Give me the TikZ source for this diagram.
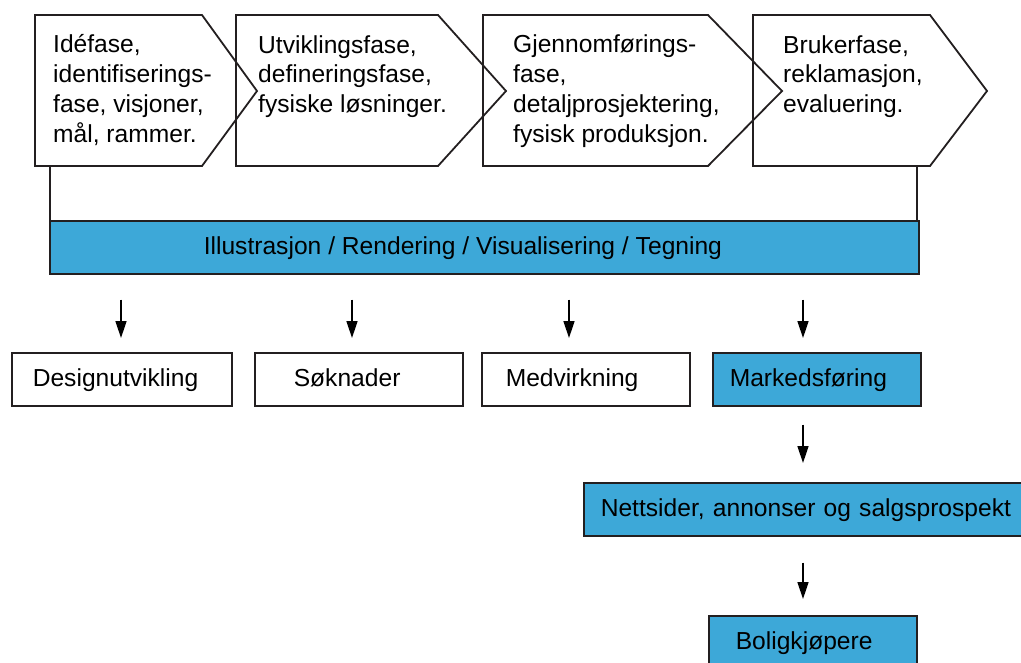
\documentclass[tikz,border=0pt]{standalone}
\usepackage{fontspec}
\setmainfont{Liberation Sans}
\usetikzlibrary{arrows.meta}
\definecolor{lineC}{HTML}{231F20}
\definecolor{blueC}{HTML}{3DA8D8}
\begin{document}
\begin{tikzpicture}[x=1pt,y=-1pt,
  txt/.style={font=\fontsize{24.6}{29.7}\selectfont, inner sep=0pt, align=left, anchor=base west},
  chev/.style={draw=lineC, line width=1.8pt, line join=miter},
  boxbase/.style={draw=lineC, line width=1.6pt, anchor=north west, minimum height=53pt, inner ysep=0pt,
    align=left, text height=17pt, text depth=2pt, font=\fontsize{24.6}{29.7}\selectfont},
  wbox/.style={boxbase, fill=white},
  bbox/.style={boxbase, fill=blueC},
  conn/.style={draw=lineC, line width=1.4pt},
  arr/.style={draw=black, line width=1.5pt, -{Triangle[length=17pt,width=11pt]}}
]
\useasboundingbox (0,0) rectangle (1021,662);
\clip (0,0) rectangle (1021,662);

% chevrons
\draw[chev] (35,15) -- (202,15) -- (257,91) -- (202,166) -- (35,166) -- cycle;
\draw[chev] (236,15) -- (438,15) -- (506,91) -- (438,166) -- (236,166) -- cycle;
\draw[chev] (483,15) -- (708,15) -- (782,91) -- (708,166) -- (483,166) -- cycle;
\draw[chev] (753,15) -- (930,15) -- (987,91) -- (930,166) -- (753,166) -- cycle;
\coordinate (c1b) at (50,166);
\coordinate (c4b) at (917,166);

% base anchor of a multi-line node is the last line's baseline
\node[txt] (t1) at (53,142) {Idéfase,\\identifiserings-\\fase, visjoner,\\mål, rammer.};
\node[txt] (t2) at (258,112.4) {Utviklingsfase,\\defineringsfase,\\fysiske løsninger.};
\node[txt] (t3) at (513,142) {Gjennomførings-\\fase,\\detaljprosjektering,\\fysisk produksjon.};
\node[txt] (t4) at (783,112.4) {Brukerfase,\\reklamasjon,\\evaluering.};

% bar
\node[bbox, inner xsep=154pt, text width=561pt] (bar) at (49,220) {\spaceskip=6.9pt Illustrasjon / Rendering / Visualisering / Tegning};
\draw[conn] (c1b) -- (c1b |- bar.north);
\draw[conn] (c4b) -- (c4b |- bar.north);

% boxes
\node[wbox, inner xsep=21pt, text width=178pt] (d) at (11,352) {Designutvikling};
\node[wbox, inner xsep=39pt, text width=130pt] (s) at (254,352) {Søknader};
\node[wbox, inner xsep=24pt, text width=160pt] (m) at (481,352) {Medvirkning};
\node[bbox, inner xsep=17pt, text width=174pt] (mf) at (712,352) {Markedsføring};
\node[bbox, inner xsep=17pt, text width=430pt] (n) at (583,482) {Nettsider, annonser og salgsprospekt};
\node[bbox, inner xsep=27pt, text width=154pt] (b) at (708,615) {Boligkjøpere};

\coordinate (x1) at (121,0);
\coordinate (x2) at (352,0);
\coordinate (x3) at (569,0);
\coordinate (x4) at (803,0);

\draw[arr, shorten <=25pt, shorten >=14pt] (bar.south -| x1) -- (d.north -| x1);
\draw[arr, shorten <=25pt, shorten >=14pt] (bar.south -| x2) -- (s.north -| x2);
\draw[arr, shorten <=25pt, shorten >=14pt] (bar.south -| x3) -- (m.north -| x3);
\draw[arr, shorten <=25pt, shorten >=14pt] (bar.south -| x4) -- (mf.north -| x4);
\draw[arr, shorten <=18pt, shorten >=19pt] (mf.south -| x4) -- (n.north -| x4);
\draw[arr, shorten <=26pt, shorten >=16pt] (n.south -| x4) -- (b.north -| x4);
\end{tikzpicture}
\end{document}
